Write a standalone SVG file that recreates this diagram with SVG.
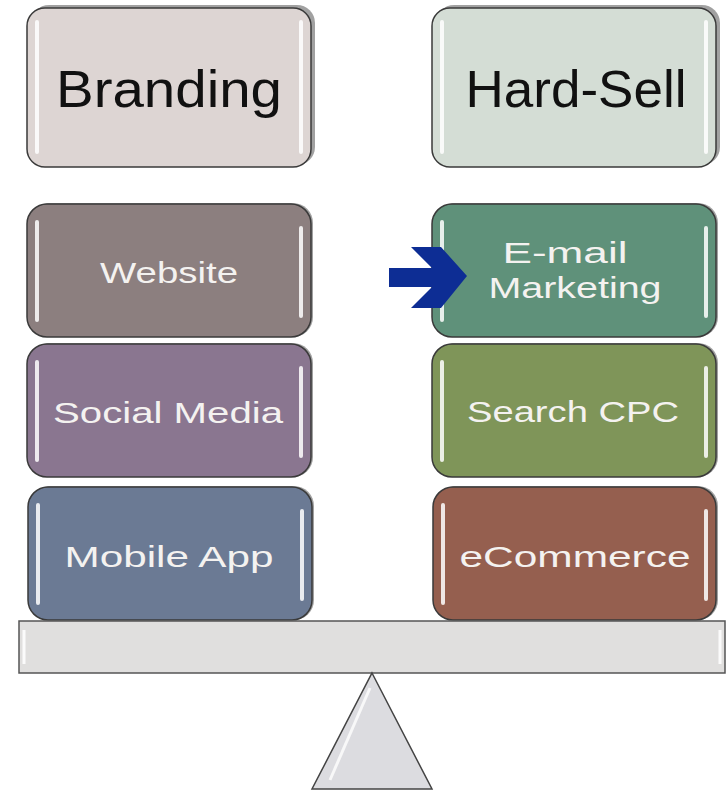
<svg xmlns="http://www.w3.org/2000/svg" width="728" height="790" viewBox="0 0 728 790">
<style>
.box{stroke:#3a3a3a;stroke-width:1.5}
.sh{fill:#8a8a8a;opacity:0.8}
.hl{stroke:#ffffff;stroke-width:4;stroke-linecap:round;opacity:0.85;fill:none}
.t{font-family:"Liberation Sans","DejaVu Sans",Arial,sans-serif;text-anchor:middle}
.dark{fill:#111111;font-size:52px}
.light{fill:#f4f2f0;font-size:30px}
</style>
<rect width="728" height="790" fill="#ffffff"/>

<g id="branding">
<rect class="sh" x="31" y="5" width="284" height="160" rx="18"/>
<rect class="box" x="27" y="8" width="284" height="159" rx="18" fill="#ddd5d3"/>
<path class="hl" d="M37 22 V152 M301 22 V152"/>
<text class="t dark" x="169" y="107" textLength="226" lengthAdjust="spacingAndGlyphs">Branding</text>
</g>

<g id="hardsell">
<rect class="sh" x="436" y="5" width="284" height="160" rx="18"/>
<rect class="box" x="432" y="8" width="284" height="159" rx="18" fill="#d4ddd5"/>
<path class="hl" d="M442 22 V152 M706 22 V152"/>
<text class="t dark" x="576" y="107" textLength="221" lengthAdjust="spacingAndGlyphs">Hard-Sell</text>
</g>

<g id="website">
<rect class="sh" x="29" y="203" width="284" height="134" rx="20"/>
<rect class="box" x="27" y="204" width="284" height="133" rx="20" fill="#8c7f7f"/>
<path class="hl" d="M37 222 V320 M301 228 V316" stroke-width="3"/>
<text class="t light" x="169" y="283" textLength="138" lengthAdjust="spacingAndGlyphs">Website</text>
</g>

<g id="socialmedia">
<rect class="sh" x="29" y="343" width="284" height="134" rx="20"/>
<rect class="box" x="27" y="344" width="284" height="133" rx="20" fill="#8a7690"/>
<path class="hl" d="M37 362 V460 M301 368 V456" stroke-width="3"/>
<text class="t light" x="168" y="423" textLength="230" lengthAdjust="spacingAndGlyphs">Social Media</text>
</g>

<g id="mobileapp">
<rect class="sh" x="30" y="486" width="284" height="134" rx="20"/>
<rect class="box" x="28" y="487" width="284" height="133" rx="20" fill="#6b7a94"/>
<path class="hl" d="M38 505 V603 M302 511 V599" stroke-width="3"/>
<text class="t light" x="169" y="567" textLength="209" lengthAdjust="spacingAndGlyphs">Mobile App</text>
</g>

<g id="emailmarketing">
<rect class="sh" x="434" y="203" width="284" height="134" rx="20"/>
<rect class="box" x="432" y="204" width="284" height="133" rx="20" fill="#5f917a"/>
<path class="hl" d="M442 222 V320 M706 228 V316" stroke-width="3"/>
<text class="t light" x="565" y="263" textLength="125" lengthAdjust="spacingAndGlyphs">E-mail</text>
<text class="t light" x="575" y="298" textLength="173" lengthAdjust="spacingAndGlyphs">Marketing</text>
</g>

<g id="searchcpc">
<rect class="sh" x="434" y="343" width="284" height="134" rx="20"/>
<rect class="box" x="432" y="344" width="284" height="133" rx="20" fill="#7f9559"/>
<path class="hl" d="M442 362 V460 M706 368 V456" stroke-width="3"/>
<text class="t light" x="573" y="422" textLength="212" lengthAdjust="spacingAndGlyphs">Search CPC</text>
</g>

<g id="ecommerce">
<rect class="sh" x="435" y="486" width="283" height="134" rx="20"/>
<rect class="box" x="433" y="487" width="283" height="133" rx="20" fill="#955f4f"/>
<path class="hl" d="M443 505 V603 M706 511 V599" stroke-width="3"/>
<text class="t light" x="575" y="567" textLength="231" lengthAdjust="spacingAndGlyphs">eCommerce</text>
</g>

<g id="beam">
<rect x="19" y="621" width="706" height="52" fill="#e0dfde" stroke="#555555" stroke-width="1.5"/>
<path d="M24 630 V664 M720 630 V664" stroke="#ffffff" stroke-width="3" opacity="0.9"/>
</g>

<g id="fulcrum">
<polygon points="372,673 432,789 312,789" fill="#dcdce0" stroke="#444444" stroke-width="1.5"/>
<path d="M370 688 L330 780" stroke="#ffffff" stroke-width="3" opacity="0.8"/>
</g>

<g id="connectors">
<polygon points="389,268 432,268 411,247 441,247 467,276 441,308 411,308 432,287 389,287" fill="#0d2d94"/>
</g>
</svg>
